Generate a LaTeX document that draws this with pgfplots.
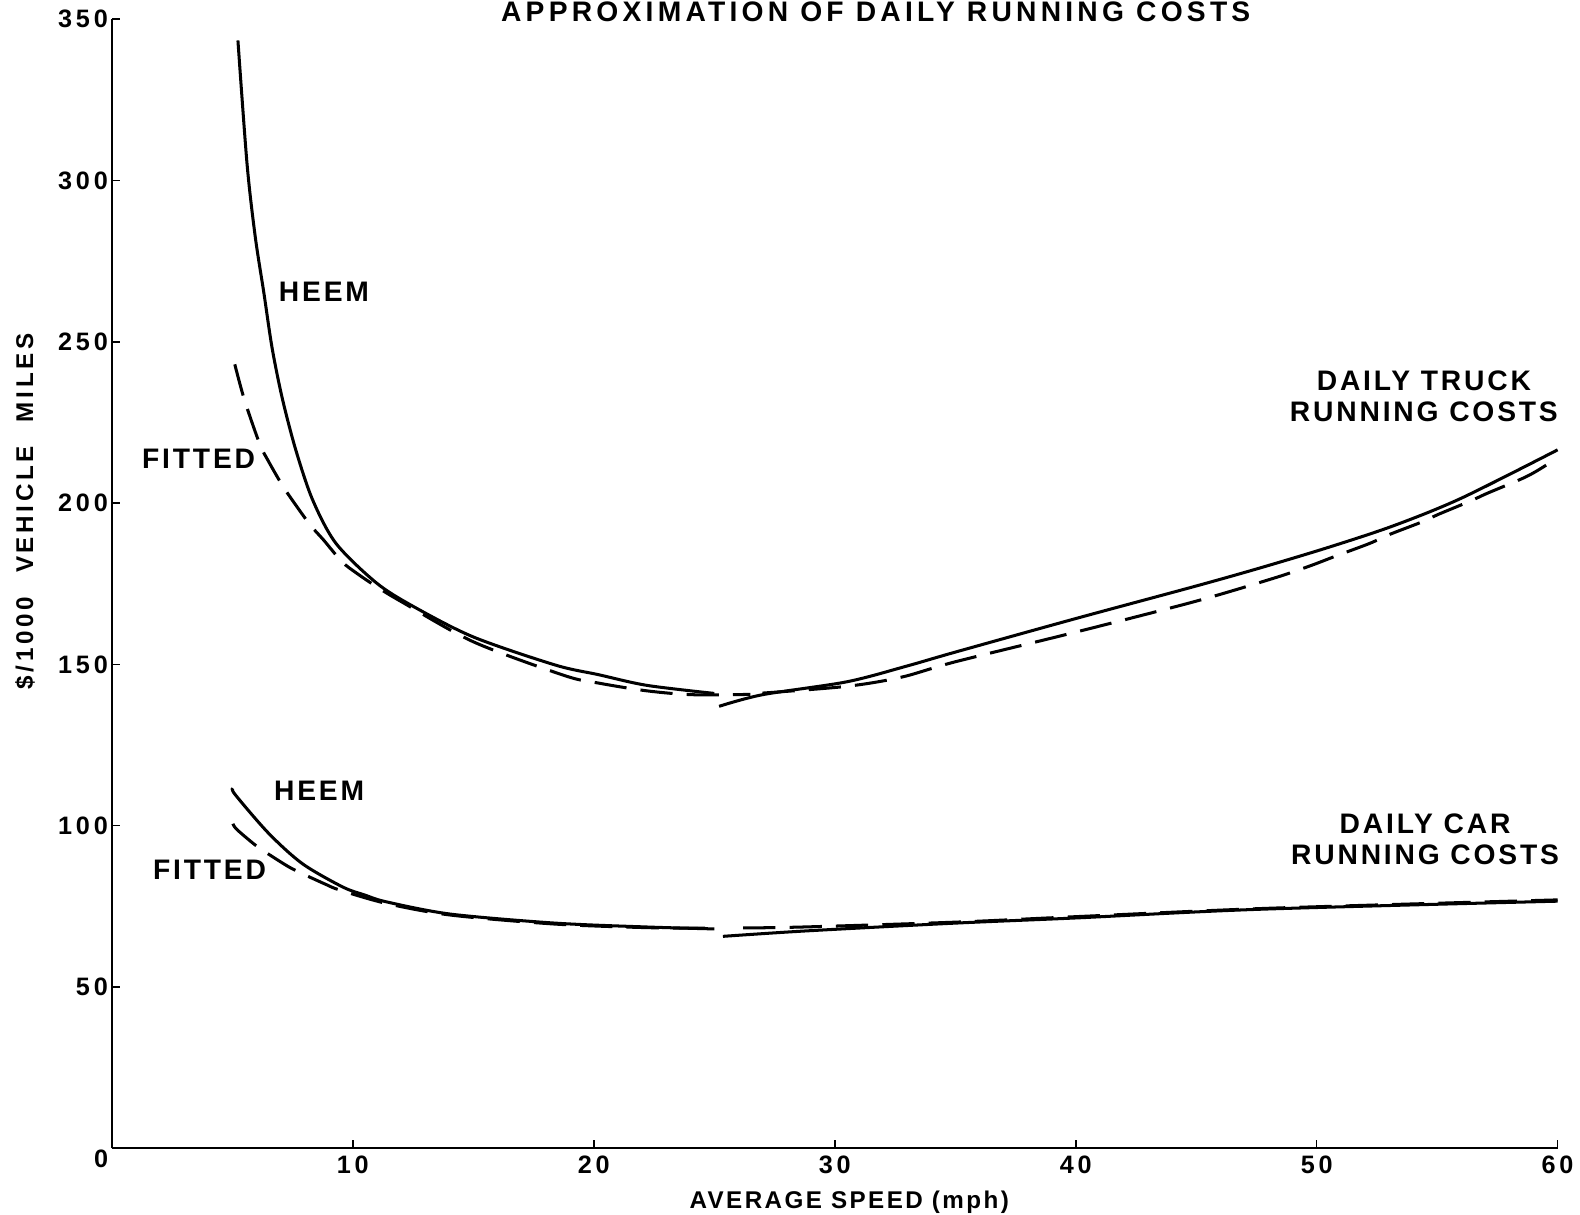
\documentclass[border=0pt]{standalone}
\usepackage{fontspec}
\setmainfont{Liberation Sans}
\newfontfamily\lab[LetterSpace=10]{Liberation Sans}
\newfontfamily\widelab[LetterSpace=15]{Liberation Sans}
\usepackage{pgfplots}
\pgfplotsset{compat=1.18}

% truck, HEEM curve, below and above 25 mph
\pgfplotstableread{
x y
5.23 343.4
5.61 305.0
5.95 282.5
6.31 265.0
6.65 248.0
7.07 232.5
7.63 216.5
8.33 201.0
9.30 187.5
10.97 175.3
12.5 168.0
15.0 158.5
18.4 149.8
20.2 146.8
22.2 143.5
25.0 141.0
}\truckheemA
\pgfplotstableread{
x y
25.2 137.0
27.0 140.6
30.5 144.6
33.0 149.5
35.0 153.8
40.0 164.2
45.0 174.3
47.7 180.0
50.5 186.3
53.2 193.0
56.0 201.5
60.0 216.5
}\truckheemB
% truck, fitted curve
\pgfplotstableread{
x y
5.10 243.0
5.50 232.0
6.13 218.4
6.48 213.2
7.04 205.9
7.46 201.2
8.22 193.3
8.78 188.6
9.55 181.8
10.17 178.2
11.0 174.0
12.0 169.5
15.0 157.0
18.8 146.5
20.2 144.2
22.2 141.8
24.1 140.6
26.5 140.7
}\truckfitA
\pgfplotstableread{
x y
27.0 141.1
30.5 143.2
32.75 146.0
35.0 150.8
40.0 160.0
45.0 169.6
48.3 176.9
49.75 180.6
50.8 183.6
52.2 187.5
53.0 190.2
54.35 194.1
55.05 196.5
56.37 200.6
57.07 203.0
58.47 207.4
59.1 209.8
60.0 214.0
}\truckfitB
% car, HEEM curve
\pgfplotstableread{
x y
5.02 111.6
5.12 109.6
6.51 97.6
7.91 88.2
9.58 81.0
10.5 78.5
11.39 76.4
14.05 72.6
18.4 69.8
22.2 68.6
25.0 68.0
}\carheemA
\pgfplotstableread{
x y
25.36 65.7
28.85 67.4
35.0 69.8
40.0 71.4
47.66 74.1
60.0 76.6
}\carheemB
% car, fitted curve
\pgfplotstableread{
x y
5.02 100.6
5.19 98.8
5.95 94.0
6.58 90.8
7.35 87.2
7.91 85.1
8.88 81.8
9.44 80.1
11.39 75.9
14.05 72.3
18.4 69.5
22.2 68.4
25.0 68.2
}\carfitA
\pgfplotstableread{
x y
26.2 68.3
28.7 68.6
35.0 70.1
40.0 71.8
48.0 74.4
60.0 77.0
}\carfitB

\begin{document}
\begin{tikzpicture}
\begin{axis}[
  scale only axis,
  width=717pt,height=560pt,
  xmin=0,xmax=60,ymin=0,ymax=350,
  axis lines*=left,
  axis line style={line width=1pt},
  tick align=inside,
  major tick length=4pt,
  tick style={line width=0.8pt,black},
  xtick={10,20,...,60},
  ytick={50,100,...,350},
  /pgf/number format/assume math mode=true,
  ticklabel style={font=\widelab\bfseries\fontsize{12.5}{14}\selectfont},
  yticklabel style={xshift=1.5pt},
  xlabel={AVERAGE SPEED (mph)},
  ylabel={\$/1000\quad VEHICLE\quad MILES},
  xlabel style={font=\lab\bfseries\fontsize{12}{14}\selectfont,
    at={(axis description cs:0.51,-0.048)},anchor=center},
  ylabel style={font=\widelab\bfseries\fontsize{12}{14}\selectfont,
    at={(axis description cs:-0.06,0.564)},anchor=center,rotate=0},
  clip=false,
]
\pgfplotsset{
  heem/.style={black,solid,line width=1.5pt,no marks,smooth,tension=0.5},
  fit/.style={black,line width=1.5pt,no marks,smooth,tension=0.5,dash pattern=on 16pt off 7pt},
}
\addplot[heem] table {\truckheemA};
\addplot[heem] table {\truckheemB};
\addplot[fit] table {\truckfitA};
\addplot[fit] table {\truckfitB};
\addplot[heem] table {\carheemA};
\addplot[heem] table {\carheemB};
\addplot[fit] table {\carfitA};
\addplot[fit] table {\carfitB};

\begin{scope}[every node/.style={font=\lab\bfseries\fontsize{14}{15.5}\selectfont,align=center}]
\node[anchor=base,font=\widelab\bfseries\fontsize{14}{15.5}\selectfont] at (axis cs:31.7,349.2) {APPROXIMATION OF DAILY RUNNING COSTS};
\node at (axis cs:8.8,265.4) {HEEM};
\node at (axis cs:3.6,213.7) {FITTED};
\node at (axis cs:54.45,233.1) {DAILY TRUCK\\RUNNING COSTS};
\node at (axis cs:8.6,110.9) {HEEM};
\node at (axis cs:4.05,86.2) {FITTED};
\node at (axis cs:54.5,95.9) {DAILY CAR\\RUNNING COSTS};
\end{scope}
\node[font=\widelab\bfseries\fontsize{12.5}{14}\selectfont] at (axis cs:-0.45,-3.4) {0};
\end{axis}
\pgfresetboundingbox
\path[use as bounding box] ([shift={(-55.5pt,-32.7pt)}]current axis.south west)
  rectangle ([shift={(11.1pt,9.5pt)}]current axis.north east);
\end{tikzpicture}
\end{document}
